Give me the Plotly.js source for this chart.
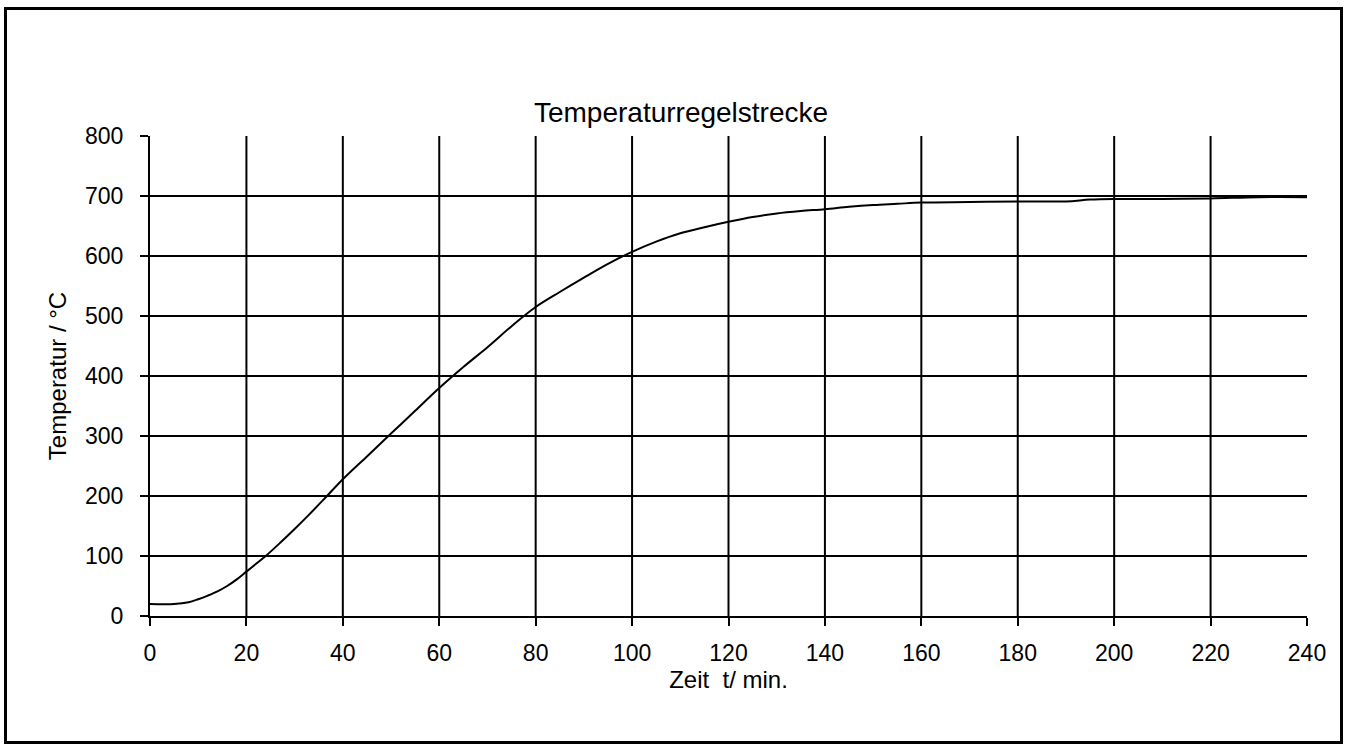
<!DOCTYPE html>
<html>
<head>
<meta charset="utf-8">
<script src="https://cdn.plot.ly/plotly-3.0.1.min.js"></script>
<style>
  html, body { margin: 0; padding: 0; background: #fff; }
  #chart { position: absolute; left: 0; top: 0; width: 1349px; height: 745px; }
  #frame { position: absolute; left: 4px; top: 7px; width: 1333px; height: 731px;
           border: 3px solid #000; pointer-events: none; }
</style>
</head>
<body>
<div id="chart"></div>
<div id="frame"></div>
<script>
// time in minutes
const zeit = [0, 5, 8, 10, 12, 14, 16, 18, 20, 22, 24, 27, 30, 33, 36, 40, 45, 50, 55, 60, 65, 70, 75, 80,
              85, 90, 95, 100, 105, 110, 115, 120, 125, 130, 135, 140, 145, 150, 155, 160, 170, 180, 190,
              195, 200, 210, 220, 230, 240];
// temperature in °C
const temperatur = [20, 20, 23, 28, 34, 41, 50, 61, 74, 87, 100, 122, 145, 169, 194, 228, 266, 304, 342, 380, 415, 448, 483, 515,
                    540, 564, 587, 607, 624, 638, 648, 657, 665, 671, 675, 678, 682, 685, 687, 689, 690, 691, 691,
                    694, 695, 695, 696, 698, 698];

const xTicks = [0, 20, 40, 60, 80, 100, 120, 140, 160, 180, 200, 220, 240];
const yTicks = [0, 100, 200, 300, 400, 500, 600, 700, 800];
const xGrid = [20, 40, 60, 80, 100, 120, 140, 160, 180, 200, 220];
const yGrid = [100, 200, 300, 400, 500, 600, 700];

const titleText = 'Temperaturregelstrecke';
const xTitle = 'Zeit\u00a0 t/ min.';
const yTitle = 'Temperatur / °C';

const shapes = [];
xGrid.forEach(v => shapes.push({type: 'line', xref: 'x', yref: 'y', x0: v, x1: v, y0: 0, y1: 800,
  line: {color: '#000', width: 2}, layer: 'below'}));
yGrid.forEach(v => shapes.push({type: 'line', xref: 'x', yref: 'y', x0: 0, x1: 240, y0: v, y1: v,
  line: {color: '#000', width: 2}, layer: 'below'}));

const font = {family: '"Liberation Sans", Arial, sans-serif', color: '#000'};

Plotly.newPlot('chart', [{
  x: zeit, y: temperatur, type: 'scatter', mode: 'lines',
  line: {color: '#000', width: 2, shape: 'spline', smoothing: 1},
  hoverinfo: 'x+y', showlegend: false
}], {
  width: 1349, height: 745,
  margin: {l: 150, r: 42, t: 136, b: 129},
  paper_bgcolor: '#fff', plot_bgcolor: '#fff',
  font: font,
  title: {text: titleText, x: 681/1349, xref: 'container', xanchor: 'center', y: 1 - 112/745, yref: 'container', yanchor: 'middle',
          font: {family: font.family, size: 28, color: '#000'}},
  xaxis: {range: [0, 240], tickvals: xTicks, ticktext: xTicks.map(String), showgrid: false, zeroline: false,
          showline: true, linecolor: '#000', linewidth: 2, ticks: 'outside', ticklen: 8, tickwidth: 2, tickcolor: '#000',
          tickfont: {family: font.family, size: 23, color: '#000'}, ticklabelstandoff: 7,
          title: {text: xTitle, font: {family: font.family, size: 24, color: '#000'}, standoff: 4}, automargin: false},
  yaxis: {range: [0, 800], tickvals: yTicks, ticktext: yTicks.map(String), showgrid: false, zeroline: false,
          showline: true, linecolor: '#000', linewidth: 2, ticks: 'outside', ticklen: 8, tickwidth: 2, tickcolor: '#000',
          tickfont: {family: font.family, size: 23, color: '#000'}, ticklabelstandoff: 12,
          title: {text: yTitle, font: {family: font.family, size: 24, color: '#000'}, standoff: 12}, automargin: false},
  shapes: shapes
}, {displayModeBar: false, staticPlot: true});
</script>
</body>
</html>
